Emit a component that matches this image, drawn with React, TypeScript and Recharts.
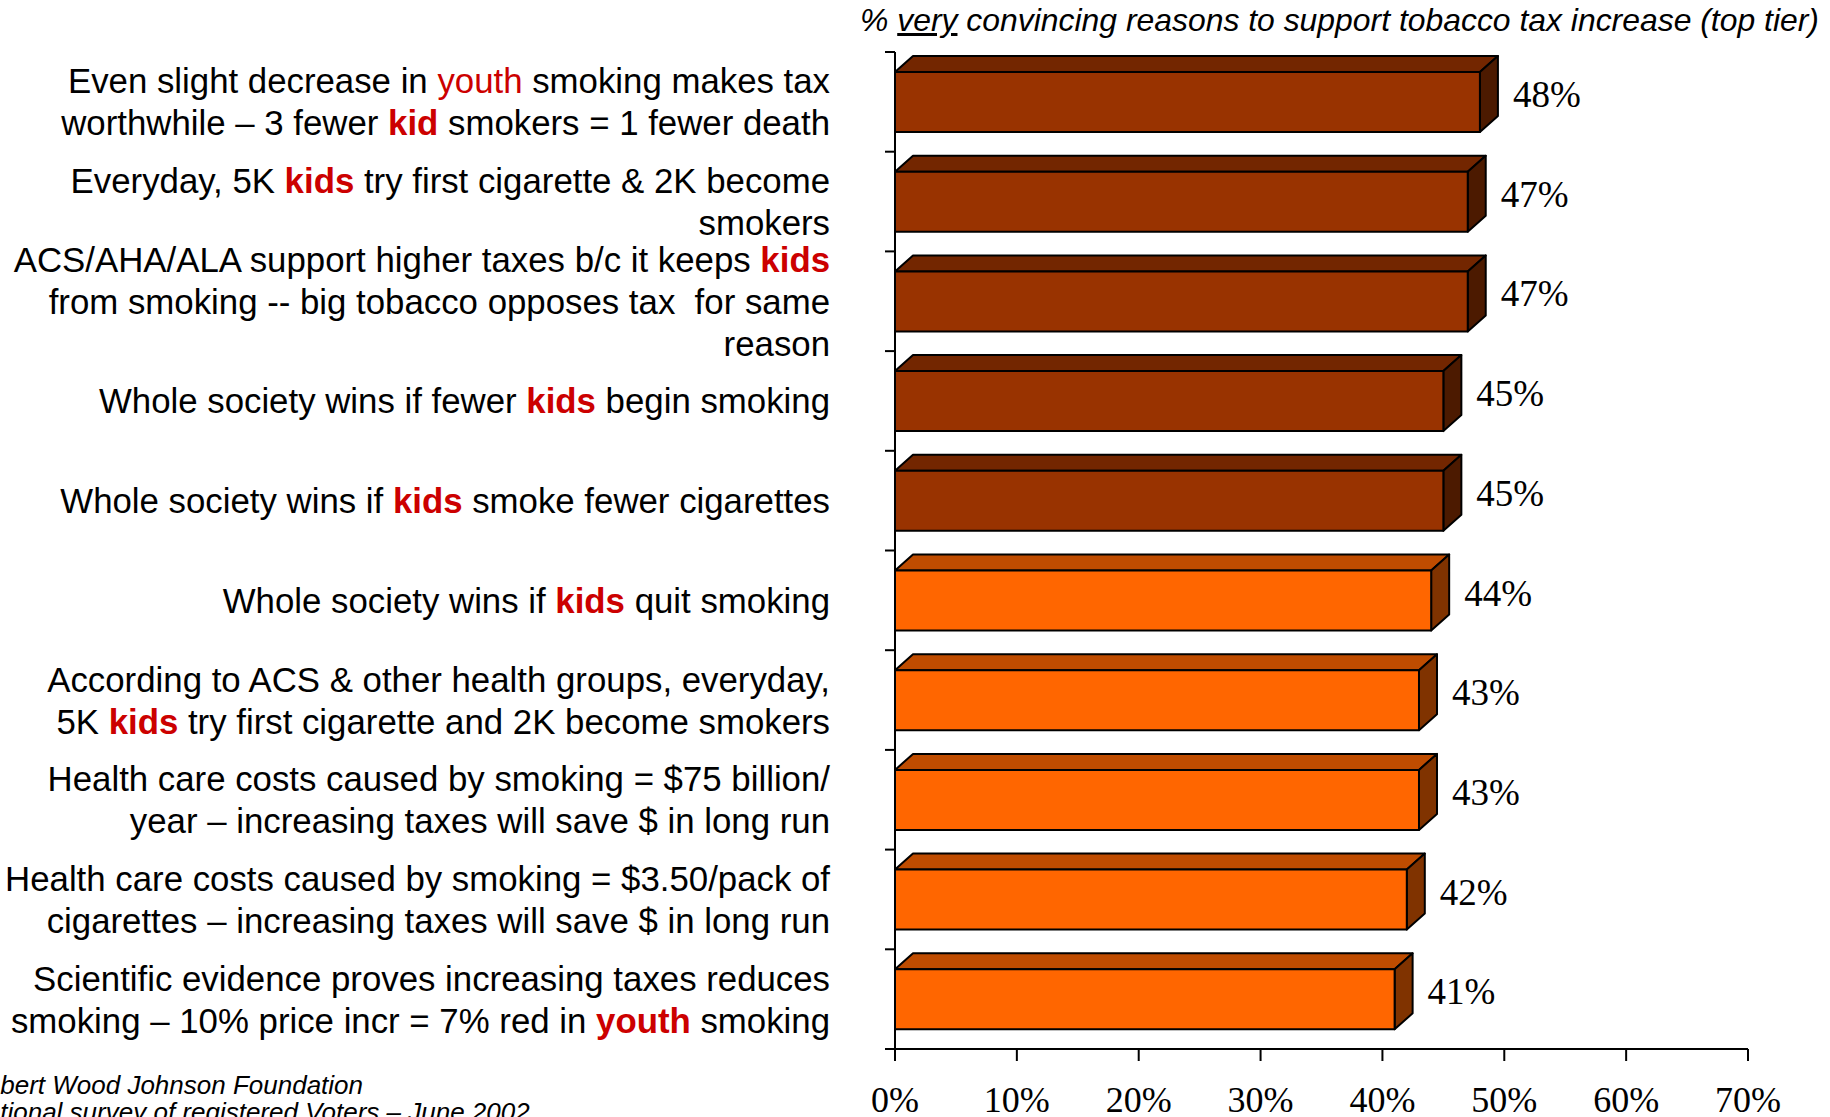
import React from "react"
import { Bar, BarChart, LabelList, XAxis, YAxis } from "recharts"

// *word* = red bold, _word_ = red regular, \n = line break
const reasons = [
  "Even slight decrease in _youth_ smoking makes tax\nworthwhile – 3 fewer *kid* smokers = 1 fewer death",
  "Everyday, 5K *kids* try first cigarette & 2K become\nsmokers",
  "ACS/AHA/ALA support higher taxes b/c it keeps *kids*\nfrom smoking -- big tobacco opposes tax  for same\nreason",
  "Whole society wins if fewer *kids* begin smoking",
  "Whole society wins if *kids* smoke fewer cigarettes",
  "Whole society wins if *kids* quit smoking",
  "According to ACS & other health groups, everyday,\n5K *kids* try first cigarette and 2K become smokers",
  "Health care costs caused by smoking = $75 billion/\nyear – increasing taxes will save $ in long run",
  "Health care costs caused by smoking = $3.50/pack of\ncigarettes – increasing taxes will save $ in long run",
  "Scientific evidence proves increasing taxes reduces\nsmoking – 10% price incr = 7% red in *youth* smoking",
]
const veryConvincing = [48, 47, 47, 45, 45, 44, 43, 43, 42, 41]
const group = [1, 1, 1, 1, 1, 2, 2, 2, 2, 2]
const xTicks = [0, 10, 20, 30, 40, 50, 60, 70]

const rows = reasons.map((reason, i) => ({ reason, value: veryConvincing[i], group: group[i] }))

const palette: Record<number, { front: string; top: string; side: string }> = {
  1: { front: "#993300", top: "#732600", side: "#4c1a00" },
  2: { front: "#ff6600", top: "#bf4c00", side: "#803300" },
}

const DX = 18
const DY = 16
const RED = "#cc0000"
const SANS = "'Liberation Sans', Arial, sans-serif"
const SERIF = "'Liberation Serif', 'Times New Roman', serif"

function Box3D(props: any) {
  const { x, y, width, height, payload } = props
  const c = palette[payload.group]
  const s = { stroke: "#000", strokeWidth: 2, strokeLinejoin: "round" as const }
  return (
    <g>
      <polygon
        points={`${x},${y} ${x + DX},${y - DY} ${x + width + DX},${y - DY} ${x + width},${y}`}
        fill={c.top}
        {...s}
      />
      <polygon
        points={`${x + width},${y} ${x + width + DX},${y - DY} ${x + width + DX},${y + height - DY} ${x + width},${y + height}`}
        fill={c.side}
        {...s}
      />
      <rect x={x} y={y} width={width} height={height} fill={c.front} {...s} />
    </g>
  )
}

function segments(line: string) {
  return line.split(/(\*[^*]+\*|_[^_]+_)/).filter(Boolean).map((part, i) => {
    if (part.startsWith("*")) {
      return <tspan key={i} fill={RED} fontWeight="bold">{part.slice(1, -1)}</tspan>
    }
    if (part.startsWith("_")) {
      return <tspan key={i} fill={RED}>{part.slice(1, -1)}</tspan>
    }
    return <tspan key={i}>{part}</tspan>
  })
}

function ReasonTick(props: any) {
  const { x, y, payload, index, visibleTicksCount } = props
  const lines = String(payload.value).split("\n")
  const lh = 42
  const top = y - ((lines.length - 1) * lh) / 2
  const axisX = x + 65
  const half = payload.offset ?? 0
  return (
    <g>
      <line x1={axisX - 10} x2={axisX} y1={y - half} y2={y - half} stroke="#000" strokeWidth={2} />
      {index === visibleTicksCount - 1 && (
        <line x1={axisX - 10} x2={axisX} y1={y + half} y2={y + half} stroke="#000" strokeWidth={2} />
      )}
      <text textAnchor="end" fontFamily={SANS} fontSize={34.8} fill="#000" style={{ whiteSpace: "pre" }}>
        {lines.map((line, i) => (
          <tspan key={i} x={x} y={top + i * lh} dy="0.36em">
            {segments(line)}
          </tspan>
        ))}
      </text>
    </g>
  )
}

function ValueLabel(props: any) {
  const { x, y, width, height, value } = props
  return (
    <text x={x + width + DX + 15} y={y + height / 2 + 5} fontFamily={SERIF} fontSize={37} fill="#000">
      {value}%
    </text>
  )
}

export default function App() {
  return (
    <div style={{ position: "absolute", left: 0, top: 0, width: 1830, height: 1117, overflow: "hidden", background: "#fff" }}>
      <div
        style={{
          position: "absolute",
          left: 860,
          top: 2,
          fontFamily: SANS,
          fontStyle: "italic",
          fontSize: 31.9,
          whiteSpace: "nowrap",
          color: "#000",
        }}
      >
        % <span style={{ textDecoration: "underline" }}>very</span> convincing reasons to support tobacco tax increase (top tier)
      </div>
      <BarChart
        layout="vertical"
        width={1830}
        height={1117}
        data={rows}
        margin={{ top: 52, right: 82, bottom: 0, left: 0 }}
        barSize={60}
      >
        <XAxis
          type="number"
          domain={[0, 70]}
          ticks={xTicks}
          interval={0}
          height={68}
          tickSize={12}
          tickMargin={25}
          tickFormatter={(v) => `${v}%`}
          axisLine={{ stroke: "#000", strokeWidth: 2 }}
          tickLine={{ stroke: "#000", strokeWidth: 2 }}
          tick={{ fontFamily: SERIF, fontSize: 36, fill: "#000" }}
        />
        <YAxis
          type="category"
          dataKey="reason"
          width={895}
          interval={0}
          tickSize={0}
          tickMargin={65}
          tickLine={false}
          axisLine={{ stroke: "#000", strokeWidth: 2 }}
          tick={<ReasonTick />}
        />
        <Bar dataKey="value" shape={<Box3D />} isAnimationActive={false}>
          <LabelList dataKey="value" content={<ValueLabel />} />
        </Bar>
      </BarChart>
      <div
        style={{
          position: "absolute",
          left: -33,
          top: 1072,
          fontFamily: SANS,
          fontStyle: "italic",
          fontSize: 26,
          lineHeight: "27px",
          whiteSpace: "nowrap",
          color: "#000",
        }}
      >
        Robert Wood Johnson Foundation
        <br />
        National survey of registered Voters – June 2002
      </div>
    </div>
  )
}
